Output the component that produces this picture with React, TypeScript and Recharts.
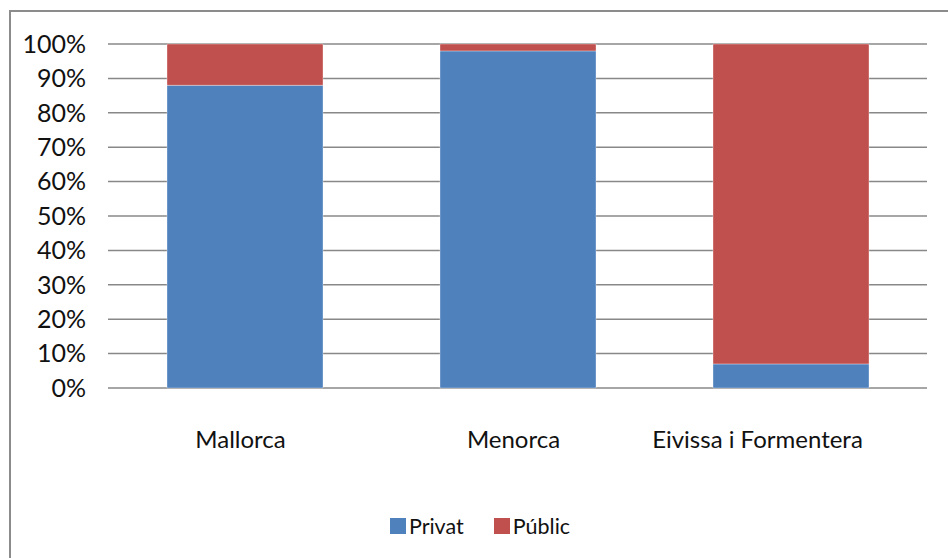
import React from 'react';
import { BarChart, Bar, XAxis, YAxis, CartesianGrid, Legend } from 'recharts';

const islands = ['Mallorca', 'Menorca', 'Eivissa i Formentera'];
const privat = [88, 98, 7];
const public_ = [12, 2, 93];
const yTicks = [0, 10, 20, 30, 40, 50, 60, 70, 80, 90, 100];

const BLUE = '#4F81BD';
const RED = '#C0504D';
const FONT = 'Lato, "Open Sans", sans-serif';

const data = islands.map((name, i) => ({ name, Privat: privat[i], 'Públic': public_[i] }));

// Excel pulls the labels slightly left, the long last one more so
const labelShift = [-4, -4, -33];

const CategoryTick = ({ x, y, payload, index }: any) => (
  <text x={x + (labelShift[index] ?? 0)} y={y} dy="0.71em" textAnchor="middle" fill="#111" fontSize={24} fontFamily={FONT}>
    {payload.value}
  </text>
);

const LegendContent = () => (
  <div style={{ display: 'flex', justifyContent: 'center', fontFamily: FONT, fontSize: 21.5, color: '#111', paddingLeft: 12 }}>
    {[['Privat', BLUE], ['Públic', RED]].map(([label, color], i) => (
      <div key={label} style={{ display: 'flex', alignItems: 'center', marginLeft: i ? 30 : 0 }}>
        <span style={{ width: 16, height: 16, background: color, display: 'inline-block', marginRight: 3 }} />
        <span>{label}</span>
      </div>
    ))}
  </div>
);

const App: React.FC = () => {
  return (
    <div style={{ position: 'absolute', left: 0, top: 0, width: 948, height: 558, overflow: 'hidden', background: '#fff' }}>
      <div style={{ position: 'absolute', left: 9, top: 10, width: 1000, height: 600, borderLeft: '2px solid #8c8c8c', borderTop: '2px solid #8c8c8c' }} />
      <div style={{ position: 'absolute', left: 0, top: 0 }}>
        <BarChart width={948} height={558} data={data} margin={{ top: 44, right: 21, left: 0, bottom: 140 }} barSize={156}>
          <CartesianGrid vertical={false} stroke="#888" strokeWidth={1.5} />
          <XAxis
            dataKey="name"
            axisLine={false}
            tickLine={false}
            height={30}
            tickMargin={37}
            interval={0}
            tick={<CategoryTick />}
          />
          <YAxis
            domain={[0, 100]}
            ticks={yTicks}
            width={108}
            axisLine={false}
            tickLine={false}
            tickMargin={16}
            interval={0}
            tickFormatter={(v) => `${v}%`}
            tick={{ fill: '#111', fontSize: 25, fontFamily: FONT }}
          />
          <Legend
            layout="horizontal"
            verticalAlign="middle"
            align="center"
            wrapperStyle={{ top: 513, left: 0, width: 948 }}
            content={<LegendContent />}
          />
          <Bar dataKey="Privat" stackId="a" fill={BLUE} stroke="#ffffff" strokeOpacity={0.35} strokeWidth={1} isAnimationActive={false} />
          <Bar dataKey="Públic" stackId="a" fill={RED} stroke="#ffffff" strokeOpacity={0.35} strokeWidth={1} isAnimationActive={false} />
        </BarChart>
      </div>
    </div>
  );
};

export default App;
